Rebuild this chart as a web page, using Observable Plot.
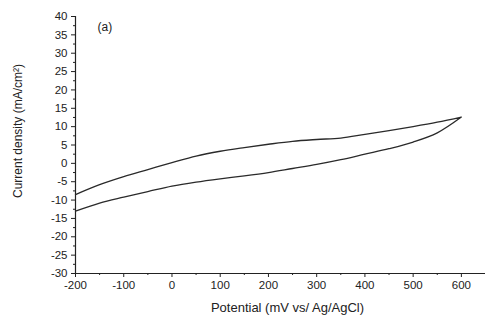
<!DOCTYPE html>
<html>
<head>
<meta charset="utf-8">
<script src="https://cdn.jsdelivr.net/npm/d3@7"></script>
<script src="https://cdn.jsdelivr.net/npm/@observablehq/plot@0.6"></script>
<style>
  html, body { margin: 0; padding: 0; background: #fff; }
  #chart { width: 486px; height: 320px; }
</style>
</head>
<body>
<div id="chart"></div>
<script>
// Potential (mV vs Ag/AgCl)
const potential = [-200, -150, -100, -50, 0, 50, 100, 150, 200, 250, 300, 350, 400, 450, 500, 550, 600];
// Upper branch current density (mA/cm²)
const upperBranch = [-8.5, -5.8, -3.6, -1.7, 0.2, 2.0, 3.3, 4.3, 5.2, 6.0, 6.5, 6.9, 7.9, 8.9, 10.0, 11.2, 12.6];
// Lower branch current density (mA/cm²)
const lowerBranch = [-13.0, -10.8, -9.2, -7.7, -6.2, -5.1, -4.2, -3.4, -2.5, -1.4, -0.3, 1.0, 2.5, 4.0, 5.8, 8.3, 12.6];

const xTicks = [-200, -100, 0, 100, 200, 300, 400, 500, 600];
const xMinorTicks = [-150, -50, 50, 150, 250, 350, 450, 550];
const yTicks = [-30, -25, -20, -15, -10, -5, 0, 5, 10, 15, 20, 25, 30, 35, 40];
const yMinorTicks = [-27.5, -22.5, -17.5, -12.5, -7.5, -2.5, 2.5, 7.5, 12.5, 17.5, 22.5, 27.5, 32.5, 37.5];
const panelLabel = ["(a)"];
const xTitle = ["Potential (mV vs/ Ag/AgCl)"];
const yTitle = ["Current density (mA/cm²)"];

const loop = [
  ...potential.map((p, i) => ({x: p, y: lowerBranch[i]})),
  ...potential.map((p, i) => ({x: p, y: upperBranch[i]})).reverse()
];

const fmt = d => String(d);

const chart = Plot.plot({
  width: 486,
  height: 320,
  marginLeft: 75,
  marginRight: 1,
  marginTop: 16,
  marginBottom: 47,
  style: {fontFamily: "'Liberation Sans', Arial, sans-serif", fontSize: "11px", color: "#222", background: "#fff"},
  x: {domain: [-200, 650]},
  y: {domain: [-30, 40]},
  marks: [
    Plot.axisX({ticks: xTicks, tickSize: 4, tickPadding: 3, tickFormat: fmt, fontSize: 11.5, label: null}),
    Plot.axisX({ticks: xMinorTicks, tickSize: 2, text: null, label: null}),
    Plot.axisY({ticks: yTicks, tickSize: 4, tickPadding: 4, tickFormat: fmt, fontSize: 11.5, label: null}),
    Plot.axisY({ticks: yMinorTicks, tickSize: 2, text: null, label: null}),
    Plot.text(xTitle, {text: d => d, frameAnchor: "bottom", textAnchor: "middle", dx: 7, dy: 38, fontSize: 13, fill: "#222"}),
    Plot.text(yTitle, {text: d => d, frameAnchor: "left", textAnchor: "middle", dx: -57, dy: -14, rotate: -90, fontSize: 12, fill: "#222"}),
    Plot.ruleX([-200], {stroke: "#222", strokeWidth: 1.2}),
    Plot.ruleY([-30], {stroke: "#222", strokeWidth: 1.2}),
    Plot.line(loop, {x: "x", y: "y", stroke: "#2a2a2a", strokeWidth: 1.3, curve: "catmull-rom"}),
    Plot.text(panelLabel, {text: d => d, frameAnchor: "top-left", dx: 22, dy: 6, fontSize: 12, fill: "#222"})
  ]
});
document.getElementById("chart").appendChild(chart);
</script>
</body>
</html>
